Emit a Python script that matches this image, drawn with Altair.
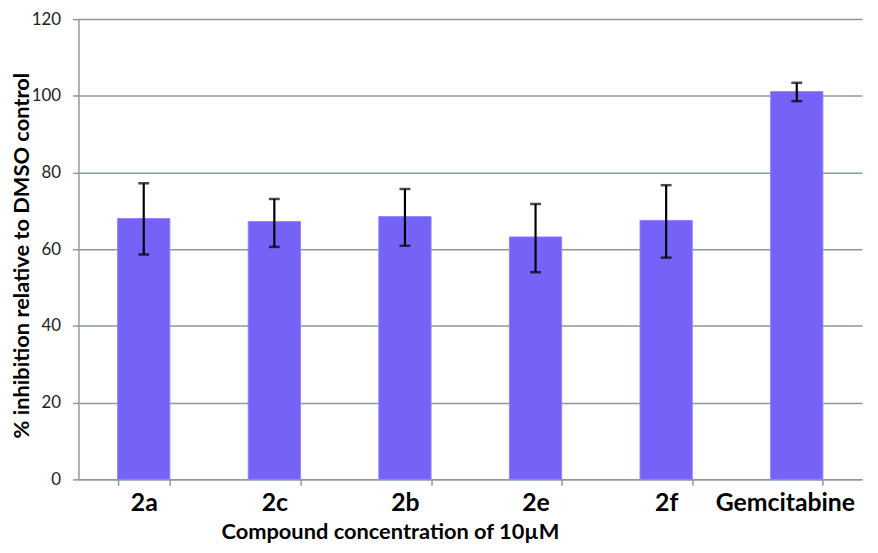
import altair as alt
import pandas as pd

categories = ["2a", "2c", "2b", "2e", "2f", "Gemcitabine"]
values = [68.0, 67.2, 68.5, 63.2, 67.5, 101.1]
err_low = [58.6, 60.6, 60.9, 54.0, 57.8, 98.6]
err_high = [77.2, 73.1, 75.7, 71.8, 76.7, 103.4]
y_ticks = [0, 20, 40, 60, 80, 100, 120]

df = pd.DataFrame({"cat": categories, "val": values, "lo": err_low, "hi": err_high})

FONT = "Lato"
GRID = "#8c999d"

x_enc = alt.X(
    "cat:N",
    sort=categories,
    scale=alt.Scale(paddingInner=0.6, paddingOuter=0.3),
    axis=alt.Axis(
        title="Compound concentration of 10µM",
        titleFont=FONT, titleFontSize=22, titleFontWeight="bold", titleColor="#000000",
        titleX=314, titleY=53, titleBaseline="middle", titleAlign="center",
        labelFont=FONT, labelFontSize=25, labelFontWeight="bold", labelColor="#000000",
        labelAngle=0, labelPadding=5,
        labelOffset={"condition": {"test": "datum.label == 'Gemcitabine'", "value": -12}, "value": 0},
        tickBand="extent", tickSize=6, tickColor=GRID, tickWidth=1.5,
        domainColor=GRID, domainWidth=1.5, grid=False,
    ),
)

y_enc = alt.Y(
    "val:Q",
    scale=alt.Scale(domain=[0, 120], nice=False),
    axis=alt.Axis(
        values=y_ticks,
        title="% inhibition relative to DMSO control",
        titleFont=FONT, titleFontSize=22, titleFontWeight="bold", titleColor="#000000",
        titleAngle=-90, titleX=-57, titleY=238, titleBaseline="middle", titleAlign="center",
        labelFont=FONT, labelFontSize=17, labelColor="#222222", labelPadding=12,
        tickSize=6, tickColor=GRID, tickWidth=1.5,
        domainColor=GRID, domainWidth=1.5,
        grid=True, gridColor=GRID, gridWidth=1.5,
    ),
)

bars = alt.Chart(df).mark_bar(color="#7563f7", stroke="#8f82ff", strokeWidth=1).encode(
    x=x_enc, y=y_enc
)

rules = alt.Chart(df).mark_rule(color="#000000", strokeWidth=2.2).encode(
    x=alt.X("cat:N", sort=categories), y="lo:Q", y2="hi:Q"
)
caps_lo = alt.Chart(df).mark_tick(color="#000000", size=11, thickness=2.5).encode(
    x=alt.X("cat:N", sort=categories), y="lo:Q"
)
caps_hi = alt.Chart(df).mark_tick(color="#000000", size=11, thickness=2.5).encode(
    x=alt.X("cat:N", sort=categories), y="hi:Q"
)

chart = (
    alt.layer(bars, rules, caps_lo, caps_hi)
    .properties(
        width=790,
        height=464,
        autosize=alt.AutoSizeParams(type="none"),
        padding={"left": 71, "top": 9, "right": 8, "bottom": 64},
        background="#ffffff",
    )
    .configure_view(stroke=None)
)

chart.save("out.html", embed_options={"renderer": "svg", "actions": False})
